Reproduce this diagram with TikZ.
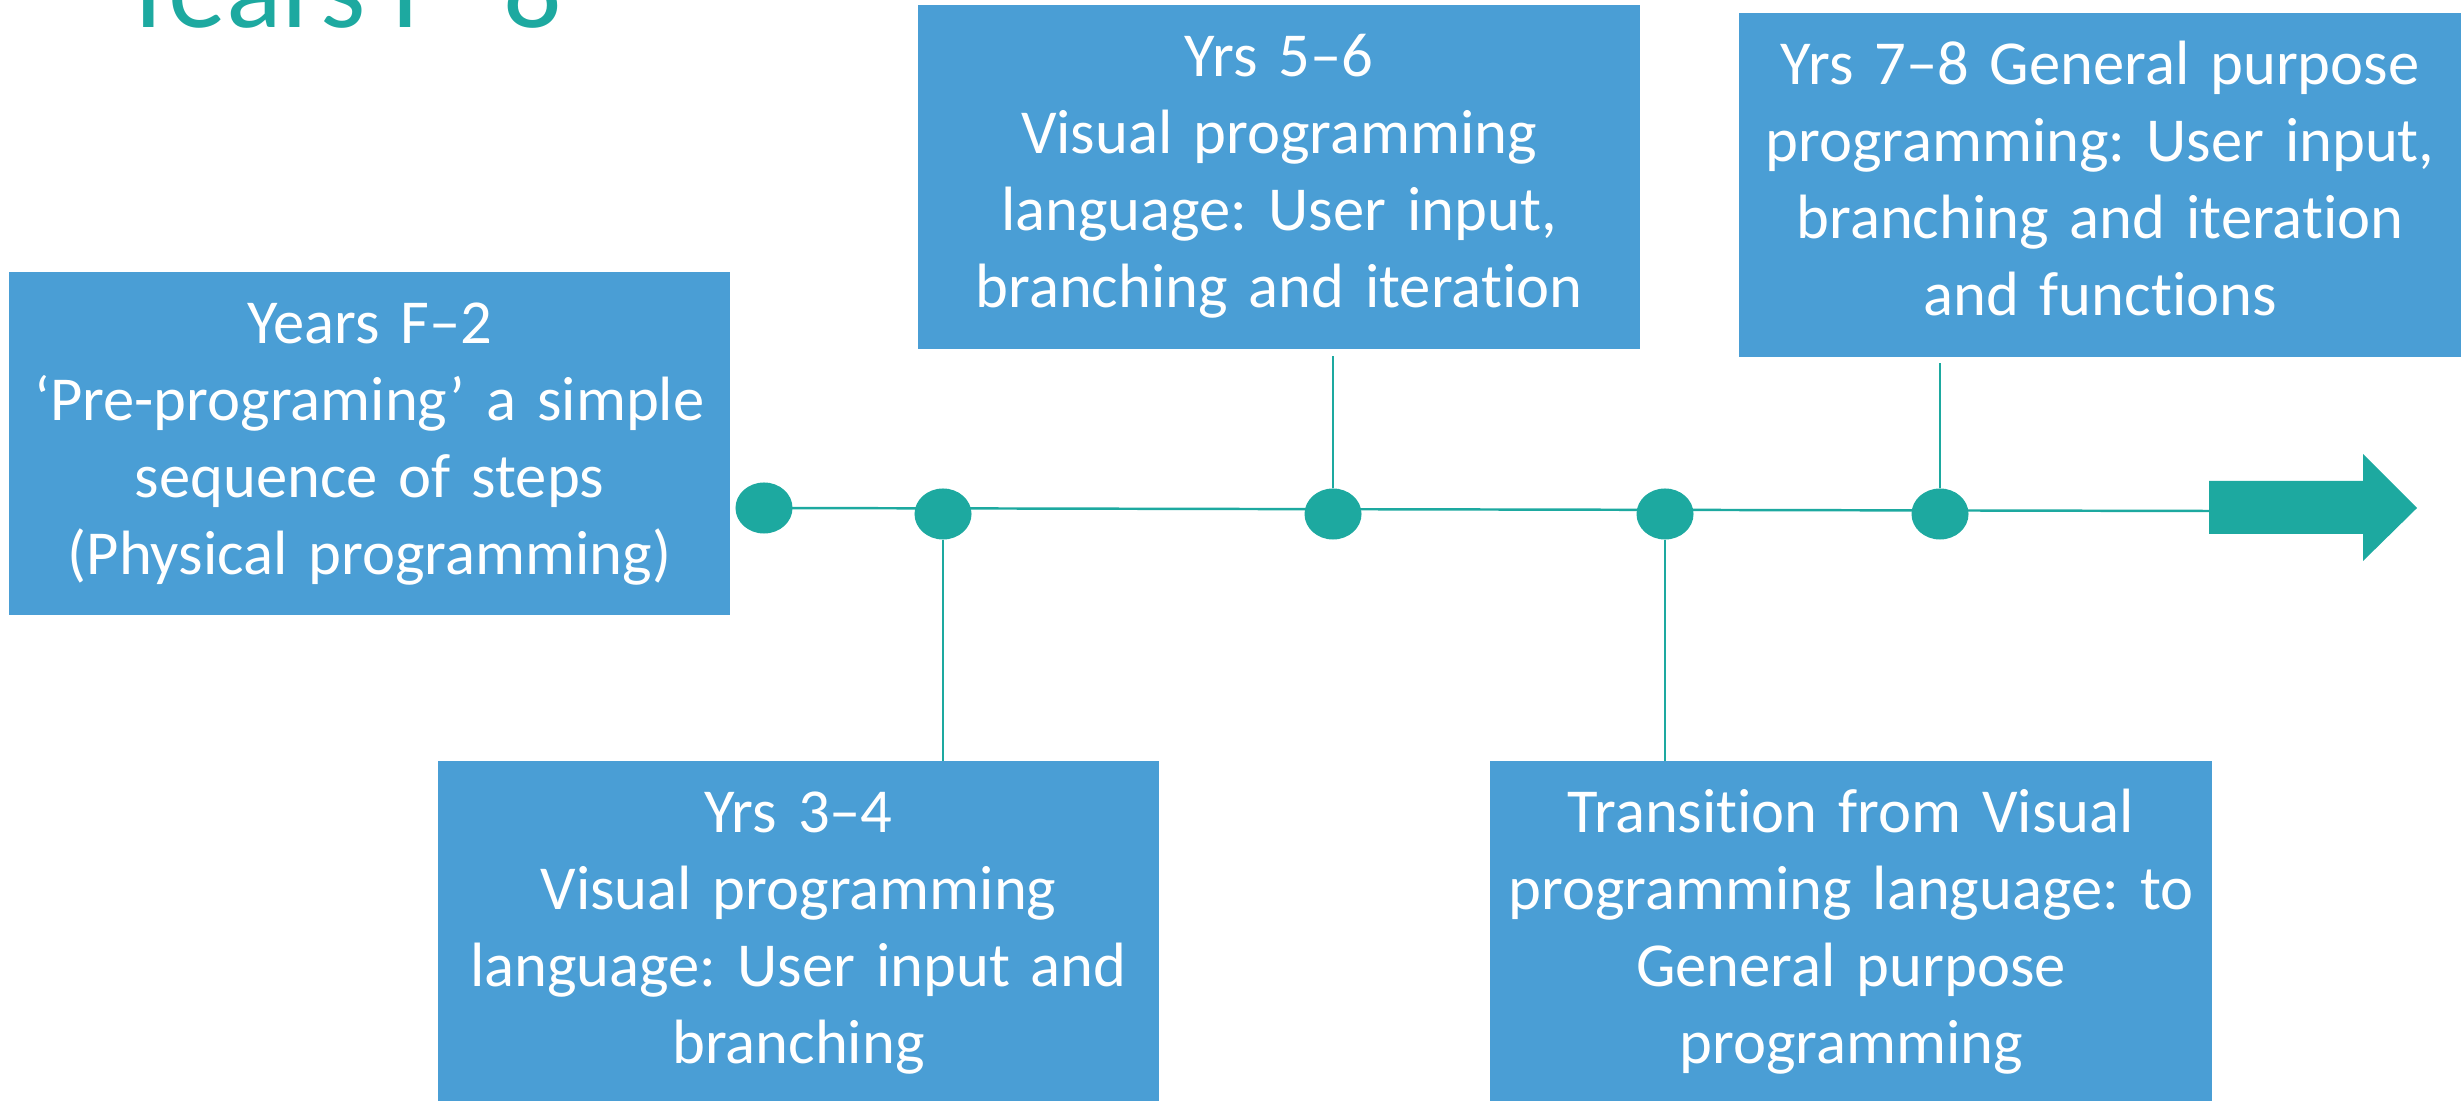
\documentclass[tikz,border=0pt]{standalone}
\usepackage{fontspec}
\setmainfont{Carlito}[RawFeature=-liga]
\usetikzlibrary{shapes.geometric,calc}
\definecolor{boxblue}{RGB}{74,158,213}
\definecolor{tealc}{RGB}{29,169,160}
\pgfdeclarelayer{bg}
\pgfsetlayers{bg,main}
\frenchspacing
\begin{document}
\begin{tikzpicture}[x=0.01cm,y=-0.01cm,
  stagebox/.style={fill=boxblue, text=white, minimum width=7.21cm, minimum height=3.43cm,
    inner sep=0pt, outer sep=0pt, text width=7.2cm, align=center,
    font=\fontsize{17.8pt}{21.9pt}\selectfont\frenchspacing,
    execute at begin node=\strut, execute at end node=\strut},
  tdot/.style={ellipse, fill=tealc, minimum width=0.57cm, minimum height=0.51cm, inner sep=0pt, outer sep=0pt},
  tline/.style={draw=tealc, line width=0.7pt},
  vline/.style={draw=tealc, line width=0.45pt}]
\useasboundingbox (0,0) rectangle (2464,1101);

\node[anchor=base west, text=tealc, inner sep=0pt, font=\fontsize{33pt}{40pt}\selectfont] (title) at (120,28) {Years F–8};

\node[stagebox] (b12) at (369.5,443.5) {Years F–2\\‘Pre-programing’ a simple\\sequence of steps\\(Physical programming)};
\node[stagebox] (b56) at (1279,177) {Yrs 5–6\\Visual programming\\language: User input,\\branching and iteration};
\node[stagebox] (b78) at (2100,185) {Yrs 7–8 General purpose\\programming: User input,\\branching and iteration\\and functions};
\node[stagebox] (b34) at (798.5,932.5) {Yrs 3–4\\Visual programming\\language: User input and\\branching};
\node[stagebox] (btr) at (1851,932.5) {Transition from Visual\\programming language: to\\General purpose\\programming};

\node[tdot] (d1) at (764,508) {};
\node[tdot] (d2) at (943,514) {};
\node[tdot] (d3) at (1333,514) {};
\node[tdot] (d4) at (1665,514) {};
\node[tdot] (d5) at (1940,514) {};
\coordinate (tail) at (2209,511);

\begin{pgfonlayer}{bg}
\draw[tline] (d1.center) -- (tail);
\end{pgfonlayer}

\fill[tealc] (2209,481) -- (2363,481) -- (2363,454) -- (2417,508) -- (2363,561) -- (2363,534) -- (2209,534) -- cycle;

\draw[vline] (d2) -- (d2 |- b34.north);
\draw[vline] (d4) -- (d4 |- btr.north);
\draw[vline] (d3) -- ($(d3 |- b56.south)+(0,7)$);
\draw[vline] (d5) -- ($(d5 |- b78.south)+(0,6)$);
\end{tikzpicture}
\end{document}
